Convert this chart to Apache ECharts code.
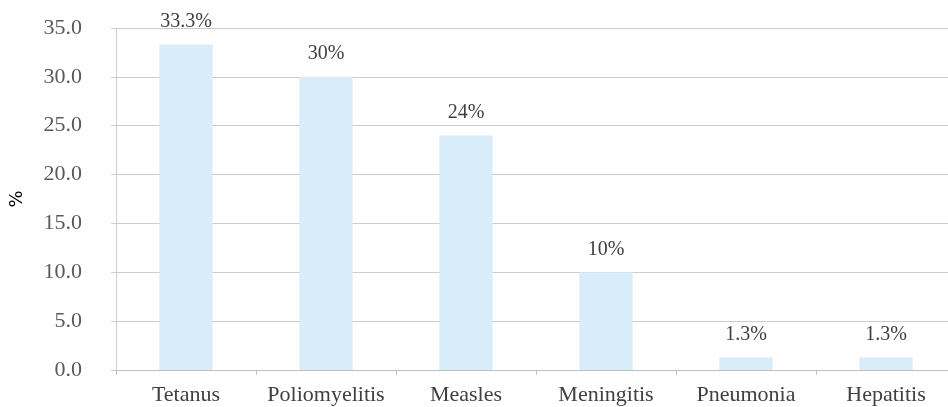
<!DOCTYPE html>
<html>
<head>
<meta charset="utf-8">
<script src="https://cdn.jsdelivr.net/npm/echarts@6/dist/echarts.min.js"></script>
<style>
  html, body { margin: 0; padding: 0; background: #fff; overflow: hidden; }
  /* the plot runs a little past the right edge of the page */
  #chart { width: 962px; height: 407px; }
</style>
</head>
<body>
<div id="chart"></div>
<script>
// Disease categories and their share (%)
const categories = ['Tetanus', 'Poliomyelitis', 'Measles', 'Meningitis', 'Pneumonia', 'Hepatitis'];
const values = [33.3, 30, 24, 10, 1.3, 1.3];
const valueLabels = ['33.3%', '30%', '24%', '10%', '1.3%', '1.3%'];

const serif = '"Liberation Serif", "DejaVu Serif", serif';

const chart = echarts.init(document.getElementById('chart'));
chart.setOption({
  animation: false,
  grid: { left: 114, right: 6, top: 28, bottom: 37 },
  xAxis: {
    type: 'category',
    data: categories,
    axisLine: { lineStyle: { color: '#bfbfbf', width: 1 } },
    axisTick: { show: true, interval: 0, length: 5, lineStyle: { color: '#bfbfbf' } },
    axisLabel: { interval: 0, color: '#404040', fontFamily: serif, fontSize: 22, margin: 14 }
  },
  yAxis: {
    type: 'value',
    min: 0,
    max: 35,
    interval: 5,
    name: '%',
    nameLocation: 'middle',
    nameGap: 90,
    nameRotate: 90,
    nameTextStyle: { color: '#000', fontSize: 18, fontFamily: '"DejaVu Sans", sans-serif' },
    axisLine: { show: true, lineStyle: { color: '#d0d0d0' } },
    axisTick: { show: true, length: 5, lineStyle: { color: '#d0d0d0' } },
    axisLabel: {
      color: '#595959', fontFamily: serif, fontSize: 22, margin: 34,
      formatter: v => v.toFixed(1)
    },
    splitLine: { lineStyle: { color: '#cccccc', width: 1 } }
  },
  series: [{
    type: 'bar',
    data: values,
    barWidth: '38%',
    itemStyle: { color: '#d8ecfa' },
    label: {
      show: true,
      position: 'top',
      distance: 13,
      color: '#404040',
      fontFamily: serif,
      fontSize: 20,
      formatter: p => valueLabels[p.dataIndex]
    }
  }]
});
</script>
</body>
</html>
